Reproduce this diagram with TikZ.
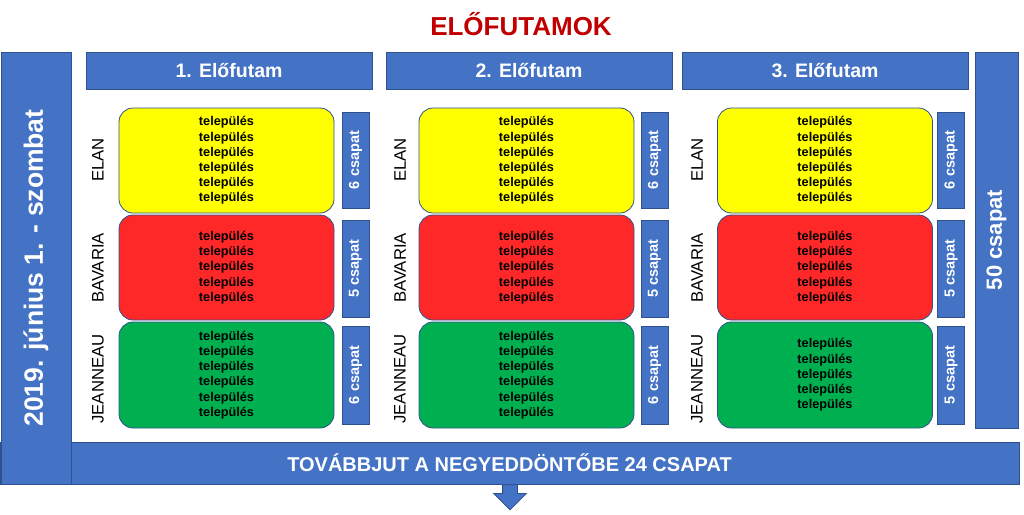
\documentclass[tikz,border=0pt]{standalone}
\usepackage{fontspec}
\setmainfont{Liberation Sans}
\usetikzlibrary{shapes.arrows}
\definecolor{bblue}{HTML}{4472C4}
\definecolor{bborder}{HTML}{2F528F}
\definecolor{ylw}{HTML}{FFFF00}
\definecolor{rd}{HTML}{FF2828}
\definecolor{grn}{HTML}{00B050}
\definecolor{ttl}{HTML}{C00000}
\newcommand{\sixtown}{település\\település\\település\\település\\település\\település}
\newcommand{\fivetown}{település\\település\\település\\település\\település}
\begin{document}
\begin{tikzpicture}[x=1pt,y=-1pt,
  bluebox/.style={draw=bborder, fill=bblue, line width=0.8pt, inner sep=0pt, text=white},
  headbox/.style={bluebox, minimum width=286pt, minimum height=37pt, font=\fontsize{19.5}{22}\selectfont\bfseries},
  countbox/.style={bluebox, rotate=90, minimum height=27pt, font=\fontsize{14.5}{16}\selectfont\bfseries},
  area/.style={draw=bborder, line width=0.8pt, rounded corners=14pt, inner sep=0pt, align=center,
    minimum width=215pt, font=\fontsize{12.7}{15.2}\selectfont\bfseries},
  brand/.style={rotate=90, inner sep=0pt, font=\fontsize{16.7}{18}\selectfont}]
\useasboundingbox (0,0) rectangle (1024,514);
% title
\node[text=ttl, font=\fontsize{26}{28}\selectfont\bfseries] (title) at (521,24) {ELŐFUTAMOK};
% bottom bar and left bar
\node[bluebox, minimum width=1019pt, minimum height=42pt] (bottom) at (509.5,463) {};
\node[text=white, font=\fontsize{20}{22}\selectfont\bfseries] (bottomtxt) at (bottom.center) {TOVÁBBJUT A NEGYEDDÖNTŐBE 24 CSAPAT};
\node[bluebox, rotate=90, minimum width=432pt, minimum height=70pt, font=\fontsize{26.5}{28}\selectfont\bfseries] (date) at (36,268) {2019. június 1. - szombat};
\node[bluebox, rotate=90, minimum width=376pt, minimum height=43pt, font=\fontsize{22}{24}\selectfont\bfseries] (total) at (996.5,240) {50 csapat};
% arrow
\node[bluebox, single arrow, rotate=-90, anchor=tail, inner sep=7pt, minimum height=25pt,
  single arrow head extend=9pt, single arrow head indent=0pt] (arrow) at (bottom.south -| 510,0) {};
% headers
\node[headbox] (h1) at (229,70.5) {1. Előfutam};
\node[headbox] (h2) at (529,70.5) {2. Előfutam};
\node[headbox] (h3) at (825,70.5) {3. Előfutam};
% column 1
\node[area, fill=ylw, minimum height=105pt] (y1) at (226.5,160.5) {\sixtown};
\node[area, fill=rd, minimum height=105pt] (r1) at (226.5,267.5) {\fivetown};
\node[area, fill=grn, minimum height=106pt] (g1) at (226.5,375) {\sixtown};
\node[countbox, minimum width=96pt] (cy1) at (355.5,160) {6 csapat};
\node[countbox, minimum width=97pt] (cr1) at (355.5,268.5) {5 csapat};
\node[countbox, minimum width=98pt] (cg1) at (355.5,375) {6 csapat};
\node[brand] (by1) at (98,160) {ELAN};
\node[brand] (br1) at (98,268) {BAVARIA};
\node[brand] (bg1) at (98,379) {JEANNEAU};
% column 2
\node[area, fill=ylw, minimum height=105pt] (y2) at (526.5,160.5) {\sixtown};
\node[area, fill=rd, minimum height=105pt] (r2) at (526.5,267.5) {\fivetown};
\node[area, fill=grn, minimum height=106pt] (g2) at (526.5,375) {\sixtown};
\node[countbox, minimum width=96pt] (cy2) at (654.5,160) {6 csapat};
\node[countbox, minimum width=97pt] (cr2) at (654.5,268.5) {5 csapat};
\node[countbox, minimum width=98pt] (cg2) at (654.5,375) {6 csapat};
\node[brand] (by2) at (400,160) {ELAN};
\node[brand] (br2) at (400,268) {BAVARIA};
\node[brand] (bg2) at (400,379) {JEANNEAU};
% column 3
\node[area, fill=ylw, minimum height=105pt] (y3) at (825,160.5) {\sixtown};
\node[area, fill=rd, minimum height=105pt] (r3) at (825,267.5) {\fivetown};
\node[area, fill=grn, minimum height=106pt] (g3) at (825,375) {\fivetown};
\node[countbox, minimum width=96pt] (cy3) at (951,160) {6 csapat};
\node[countbox, minimum width=97pt] (cr3) at (951,268.5) {5 csapat};
\node[countbox, minimum width=98pt] (cg3) at (951,375) {5 csapat};
\node[brand] (by3) at (697,160) {ELAN};
\node[brand] (br3) at (697,268) {BAVARIA};
\node[brand] (bg3) at (697,379) {JEANNEAU};
\end{tikzpicture}
\end{document}
